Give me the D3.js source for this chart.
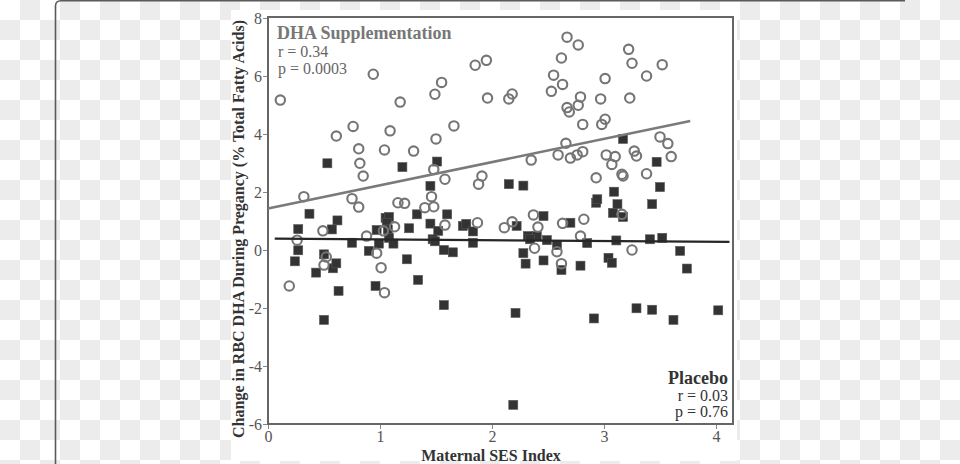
<!DOCTYPE html>
<html><head><meta charset="utf-8">
<script src="https://cdn.jsdelivr.net/npm/d3@7/dist/d3.min.js"></script>
<style>body{margin:0;background:#fff}svg{display:block}</style>
</head><body>
<svg id="c" width="960" height="464"></svg>
<script>
// DHA supplementation group: [SES index, change in RBC DHA]
const dhaX = [0.11,0.94,0.61,0.76,0.81,1.04,1.09,1.18,1.30,1.49,1.55,1.50,1.66,1.85,1.95,2.67,2.77,2.62,2.55,2.63,2.53,1.96,2.15,2.18,2.79,2.77,2.67,2.69,2.81,2.97,3.01,3.22,3.25,3.52,3.38,3.23,2.98,3.01,2.66,2.59,2.70,2.76,2.81,3.02,3.10,3.27,3.29,3.50,3.57,3.60,2.35,0.32,0.82,0.85,0.75,0.81,1.16,1.22,1.40,1.46,1.48,1.48,1.58,1.58,1.87,1.88,1.91,0.49,0.26,0.88,1.03,1.13,0.52,0.50,0.97,1.01,0.19,1.04,3.07,2.93,3.16,3.17,3.38,3.16,2.37,2.82,2.63,2.11,2.18,2.41,2.79,2.38,2.58,2.62,3.25];
const dhaY = [5.17,6.06,3.93,4.26,3.49,3.45,4.11,5.10,3.41,5.37,5.78,3.83,4.28,6.37,6.54,7.34,7.07,6.62,6.03,5.71,5.47,5.24,5.21,5.38,5.28,4.99,4.91,4.76,4.33,5.21,5.91,6.92,6.44,6.39,6.00,5.24,4.33,4.51,3.68,3.28,3.17,3.28,3.39,3.28,3.22,3.41,3.24,3.90,3.67,3.22,3.10,1.84,2.99,2.55,1.77,1.48,1.63,1.61,1.46,1.84,1.49,2.78,2.44,0.86,0.94,2.27,2.55,0.66,0.34,0.48,0.66,0.80,-0.24,-0.52,-0.11,-0.61,-1.24,-1.47,2.95,2.49,2.61,2.55,2.63,1.23,1.21,1.06,0.92,0.77,0.97,0.79,0.48,0.06,-0.06,-0.47,0.00];
// Placebo group
const plaX = [3.17,3.47,0.53,1.20,1.51,1.45,0.37,0.62,0.27,0.57,0.27,0.24,0.43,0.50,0.58,0.61,0.63,0.75,0.97,1.05,1.08,1.06,1.07,1.08,1.12,0.99,0.90,1.26,1.33,1.45,1.52,1.60,1.47,1.49,1.57,1.65,1.24,1.34,0.96,1.57,1.74,1.77,1.83,1.83,2.15,2.28,3.50,3.09,2.93,2.94,3.12,3.43,3.08,3.17,2.46,2.70,2.22,2.32,2.40,2.34,2.49,2.58,2.85,3.11,3.41,3.52,3.68,3.74,2.28,2.30,2.46,2.62,2.79,3.04,3.07,0.50,2.21,2.91,3.29,3.43,3.62,4.02,2.19];
const plaY = [3.83,3.04,2.99,2.86,3.05,2.21,1.25,1.02,0.72,0.71,-0.01,-0.39,-0.78,-0.15,-0.63,-0.46,-1.41,0.25,0.69,1.11,1.14,0.94,0.71,0.42,0.22,0.22,-0.03,0.75,1.23,0.91,0.66,1.23,0.37,0.30,0.00,-0.08,-0.32,-1.03,-1.24,-1.90,0.83,0.90,0.64,0.25,2.27,2.22,2.17,2.01,1.63,1.75,1.58,1.58,1.28,1.14,1.17,0.94,0.83,0.48,0.48,0.37,0.34,0.17,0.24,0.33,0.37,0.42,-0.03,-0.64,-0.11,-0.47,-0.36,-0.69,-0.54,-0.27,-0.44,-2.41,-2.17,-2.36,-2.01,-2.06,-2.41,-2.08,-5.34];
// Regression line endpoints
const dhaFitX = [0, 3.77], dhaFitY = [1.43, 4.45];
const plaFitX = [0.06, 4.12], plaFitY = [0.39, 0.28];
const xTicks = [0,1,2,3,4];
const yTicks = [-6,-4,-2,0,2,4,6,8];
const dhaTitle = "DHA Supplementation", dhaStats = ["r = 0.34", "p = 0.0003"];
const plaTitle = "Placebo", plaStats = ["r = 0.03", "p = 0.76"];
const xLabel = "Maternal SES Index";
const yLabel = "Change in RBC DHA During Pregancy (% Total Fatty Acids)";

const svg = d3.select("#c");
const W = 960, H = 464, serif = "'Liberation Serif','Times New Roman',serif";

// checkerboard backdrop
const defs = svg.append("defs");
const pat = defs.append("pattern").attr("id","chk").attr("width",40).attr("height",40).attr("patternUnits","userSpaceOnUse");
pat.append("rect").attr("width",40).attr("height",40).attr("fill","#fff");
pat.append("rect").attr("x",20).attr("y",0).attr("width",20).attr("height",20).attr("fill","#ececec");
pat.append("rect").attr("x",0).attr("y",20).attr("width",20).attr("height",20).attr("fill","#ececec");
svg.append("rect").attr("width",W).attr("height",H).attr("fill","url(#chk)");
// frame
svg.append("path").attr("d","M55.5,470 L55.5,6 Q55.5,0.8 61,0.8 L905,0.8").attr("fill","none").attr("stroke","#5a5a5a").attr("stroke-width",1.6);
// chart white area
svg.append("rect").attr("x",231).attr("y",10).attr("width",506).attr("height",451).attr("fill","#fff");

const x = d3.scaleLinear().domain([0,4]).range([268,716]);
const y = d3.scaleLinear().domain([-6,8]).range([424,18]);
const L = 268, R = 733, T = 17, B = 424;

// axes
const fmt = d => String(d);
const xAxis = svg.append("g").attr("transform",`translate(0,${B})`).call(d3.axisBottom(x).tickValues(xTicks).tickSize(5).tickPadding(2).tickFormat(fmt));
const yAxis = svg.append("g").attr("transform",`translate(${L},0)`).call(d3.axisLeft(y).tickValues(yTicks).tickSize(5).tickPadding(1).tickFormat(fmt));
[xAxis,yAxis].forEach(a=>{
  a.select(".domain").remove();
  a.selectAll(".tick line").attr("stroke","#888").attr("stroke-width",1);
  a.selectAll(".tick text").attr("fill","#555").style("font-family",serif).style("font-size","16px");
});
svg.append("rect").attr("x",L).attr("y",T).attr("width",R-L).attr("height",B-T).attr("fill","none").attr("stroke","#666").attr("stroke-width",2);

// placebo squares
const s = 9;
svg.append("g").selectAll("rect").data(plaX.map((v,i)=>[v,plaY[i]])).join("rect")
  .attr("x",d=>x(d[0])-s/2).attr("y",d=>y(d[1])-s/2).attr("width",s).attr("height",s)
  .attr("fill","#333").attr("stroke","#555").attr("stroke-width",0.6);
// DHA circles
svg.append("g").selectAll("circle").data(dhaX.map((v,i)=>[v,dhaY[i]])).join("circle")
  .attr("cx",d=>x(d[0])).attr("cy",d=>y(d[1])).attr("r",4.7)
  .attr("fill","none").attr("stroke","#757575").attr("stroke-width",2.1);

// fit lines
const line = d3.line().x(d=>x(d[0])).y(d=>y(d[1]));
svg.append("path").datum(dhaFitX.map((v,i)=>[v,dhaFitY[i]])).attr("d",line).attr("stroke","#7a7a7a").attr("stroke-width",2.6).attr("fill","none");
svg.append("path").datum(plaFitX.map((v,i)=>[v,plaFitY[i]])).attr("d",line).attr("stroke","#262626").attr("stroke-width",2.2).attr("fill","none");

// annotations
const ann = svg.append("g").style("font-family",serif);
ann.append("text").attr("x",277).attr("y",39).attr("fill","#777").style("font-weight","bold").style("font-size","18px").text(dhaTitle);
dhaStats.forEach((t,i)=>ann.append("text").attr("x",278).attr("y",57+i*17).attr("fill","#666").style("font-size","16px").text(t));
ann.append("text").attr("x",728).attr("y",384).attr("text-anchor","end").attr("fill","#333").style("font-weight","bold").style("font-size","18px").text(plaTitle);
plaStats.forEach((t,i)=>ann.append("text").attr("x",728).attr("y",401+i*16).attr("text-anchor","end").attr("fill","#333").style("font-size","16px").text(t));

// axis titles
svg.append("text").attr("x",491).attr("y",461).attr("text-anchor","middle").attr("fill","#333")
  .style("font-family",serif).style("font-weight","bold").style("font-size","16px").text(xLabel);
svg.append("text").attr("transform","translate(244,229) rotate(-90)").attr("text-anchor","middle").attr("fill","#333")
  .style("font-family",serif).style("font-weight","bold").style("font-size","16px").text(yLabel);
</script>
</body></html>
